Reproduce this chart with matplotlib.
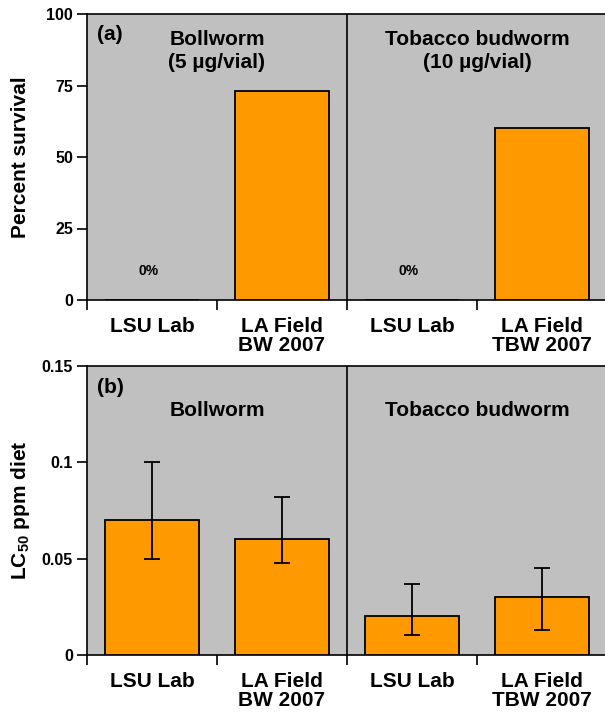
import numpy as np
import matplotlib
matplotlib.use('Agg')
import matplotlib.pyplot as plt

plt.rcParams['font.family'] = ['Liberation Sans', 'DejaVu Sans']
plt.rcParams['font.weight'] = 'bold'
plt.rcParams['mathtext.fontset'] = 'custom'
plt.rcParams['mathtext.rm'] = 'Liberation Sans:bold'
plt.rcParams['mathtext.bf'] = 'Liberation Sans:bold'
plt.rcParams['mathtext.default'] = 'rm'

# Data
labels_a = ['LSU Lab', 'LA Field\nBW 2007', 'LSU Lab', 'LA Field\nTBW 2007']
survival = [0, 73, 0, 60]
zero_labels = ['0%', '', '0%', '']

labels_b = ['LSU Lab', 'LA Field\nBW 2007', 'LSU Lab', 'LA Field\nTBW 2007']
lc50 = [0.07, 0.06, 0.02, 0.03]
lc50_low = [0.05, 0.048, 0.0105, 0.013]
lc50_high = [0.10, 0.082, 0.037, 0.045]

gray = '#C0C0C0'
orange = '#FF9900'
big = 15

fig = plt.figure(figsize=(6.05, 7.12), dpi=100)
ax1 = fig.add_axes([87/605, 1-300/712, 520/605, 286/712])
ax2 = fig.add_axes([87/605, 1-655/712, 520/605, 289/712])

x = np.arange(4)


def style_axis(ax, labels):
    ax.set_facecolor(gray)
    ax.set_xlim(-0.5, 3.5)
    ax.axvline(1.5, color='black', lw=1.2)
    for s in ['left', 'bottom', 'top', 'right']:
        ax.spines[s].set_linewidth(1.2)
    ax.set_xticks([-0.5, 0.5, 1.5, 2.5, 3.5])
    ax.set_xticklabels([])
    ax.tick_params(axis='x', which='major', length=7, width=1.2, direction='out')
    ax.set_xticks(x, minor=True)
    ax.set_xticklabels(labels, minor=True, fontsize=big, fontweight='bold')
    ax.tick_params(axis='x', which='minor', length=0, pad=12)
    for t in ax.get_xticklabels(minor=True):
        t.set_linespacing(1.05)
    ax.tick_params(axis='y', length=7, width=1.2, direction='out', labelsize=11.5, pad=3)
    for t in ax.get_yticklabels():
        t.set_fontweight('bold')


# Panel (a)
ax1.bar(x, survival, width=0.72, color=orange, edgecolor='black', linewidth=1.3, zorder=3)
ax1.set_ylim(0, 100)
ax1.set_yticks([0, 25, 50, 75, 100])
style_axis(ax1, labels_a)
for xi, lab in zip(x, zero_labels):
    if lab:
        ax1.text(xi - 0.03, 10, lab, ha='center', va='center', fontsize=10, fontweight='bold')
ax1.set_ylabel('Percent survival', fontsize=big, fontweight='bold', labelpad=12)
ax1.text(0.02, 0.927, '(a)', transform=ax1.transAxes, fontsize=big, fontweight='bold',
         ha='left', va='center')
ax1.text(0.5, 87, 'Bollworm\n(5 µg/vial)', ha='center', va='center', fontsize=big,
         fontweight='bold', linespacing=1.3)
ax1.text(2.5, 87, 'Tobacco budworm\n(10 µg/vial)', ha='center', va='center', fontsize=big,
         fontweight='bold', linespacing=1.3)

# Panel (b)
err = [np.array(lc50) - np.array(lc50_low), np.array(lc50_high) - np.array(lc50)]
ax2.bar(x, lc50, width=0.72, color=orange, edgecolor='black', linewidth=1.3, zorder=3,
        yerr=err, error_kw=dict(ecolor='black', elinewidth=1.3, capsize=6, capthick=1.3, zorder=4))
ax2.set_ylim(0, 0.15)
ax2.set_yticks([0, 0.05, 0.1, 0.15])
ax2.set_yticklabels(['0', '0.05', '0.1', '0.15'])
style_axis(ax2, labels_b)
ax2.set_ylabel(r'LC$_{50}$ ppm diet', fontsize=big, fontweight='bold', labelpad=7)
ax2.text(0.02, 0.924, '(b)', transform=ax2.transAxes, fontsize=big, fontweight='bold',
         ha='left', va='center')
ax2.text(0.5, 0.127, 'Bollworm', ha='center', va='center', fontsize=big, fontweight='bold')
ax2.text(2.5, 0.127, 'Tobacco budworm', ha='center', va='center', fontsize=big, fontweight='bold')

fig.savefig('out.png', dpi=100)
